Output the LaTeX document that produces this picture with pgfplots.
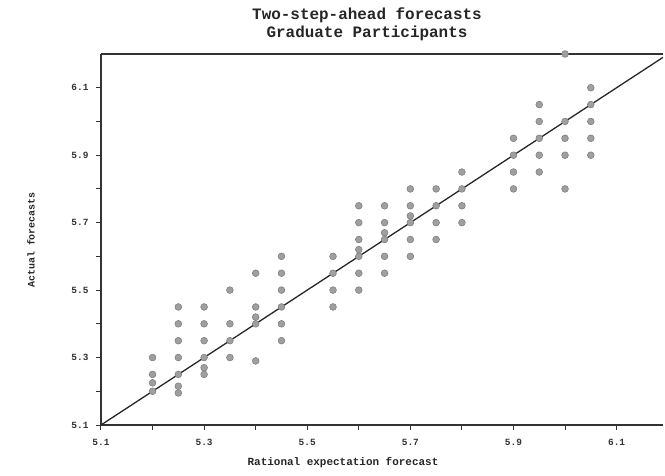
\documentclass[border=0pt]{standalone}
\usepackage{pgfplots}
\pgfplotsset{compat=1.18}
\usepackage{fontspec}
\setmainfont{Liberation Mono}
\begin{document}
\begin{tikzpicture}
\begin{axis}[
  at={(0,0)}, anchor=south west,
  scale only axis,
  width=562bp, height=371bp,
  xmin=5.1, xmax=6.19, ymin=5.1, ymax=6.2,
  axis y line*=left,
  axis x line*=box,
  xtick pos=bottom, ytick pos=left,
  xtick={5.1,5.3,5.5,5.7,5.9,6.1},
  ytick={5.1,5.3,5.5,5.7,5.9,6.1},
  minor xtick={5.2,5.4,5.6,5.8,6.0},
  minor ytick={5.2,5.4,5.6,5.8,6.0},
  tick align=outside,
  major tick length=5bp, minor tick length=5bp,
  every tick/.style={black!80, line width=1bp},
  axis line style={black!80, line width=1.4bp},
  /pgf/number format/assume math mode=true,
  xticklabel style={font=\fontsize{9.5}{10}\selectfont\bfseries, text=black!80, yshift=-6bp},
  yticklabel style={font=\fontsize{9.5}{10}\selectfont\bfseries, text=black!80, xshift=-4bp},
  /pgf/number format/.cd, fixed, fixed zerofill, precision=1,
]
\addplot[black!85, line width=1.3bp] coordinates {(5.1,5.1) (6.19,6.19)};
\addplot[only marks, mark=*, mark size=3.4bp,
  mark options={fill=gray!75, draw=gray!95!black, line width=0.5bp}] coordinates {
(5.20,5.30) (5.20,5.25) (5.20,5.225) (5.20,5.20)
(5.25,5.45) (5.25,5.40) (5.25,5.35) (5.25,5.30) (5.25,5.25) (5.25,5.215) (5.25,5.195)
(5.30,5.45) (5.30,5.40) (5.30,5.35) (5.30,5.30) (5.30,5.27) (5.30,5.25)
(5.35,5.50) (5.35,5.40) (5.35,5.35) (5.35,5.30)
(5.40,5.55) (5.40,5.45) (5.40,5.42) (5.40,5.40) (5.40,5.29)
(5.45,5.60) (5.45,5.55) (5.45,5.50) (5.45,5.45) (5.45,5.40) (5.45,5.35)
(5.55,5.60) (5.55,5.55) (5.55,5.50) (5.55,5.45)
(5.60,5.75) (5.60,5.70) (5.60,5.65) (5.60,5.62) (5.60,5.60) (5.60,5.55) (5.60,5.50)
(5.65,5.75) (5.65,5.70) (5.65,5.67) (5.65,5.65) (5.65,5.60) (5.65,5.55)
(5.70,5.80) (5.70,5.75) (5.70,5.72) (5.70,5.70) (5.70,5.65) (5.70,5.60)
(5.75,5.80) (5.75,5.75) (5.75,5.70) (5.75,5.65)
(5.80,5.85) (5.80,5.80) (5.80,5.75) (5.80,5.70)
(5.90,5.95) (5.90,5.90) (5.90,5.85) (5.90,5.80)
(5.95,6.05) (5.95,6.00) (5.95,5.95) (5.95,5.90) (5.95,5.85)
(6.00,6.20) (6.00,6.00) (6.00,5.95) (6.00,5.90) (6.00,5.80)
(6.05,6.10) (6.05,6.05) (6.05,6.00) (6.05,5.95) (6.05,5.90)
};
\end{axis}
\node[font=\fontsize{16}{18}\selectfont\bfseries, text=black!85, align=center] at (266bp,401bp) {Two-step-ahead forecasts\\Graduate Participants};
\node[font=\fontsize{11}{13}\selectfont\bfseries, text=black!85] at (242bp,-38bp) {Rational expectation forecast};
\node[font=\fontsize{10}{12}\selectfont\bfseries, text=black!85, rotate=90] at (-70bp,185bp) {Actual forecasts};
\pgfresetboundingbox
\path[use as bounding box] (-101bp,-51bp) rectangle (564bp,425bp);
\end{tikzpicture}
\end{document}
